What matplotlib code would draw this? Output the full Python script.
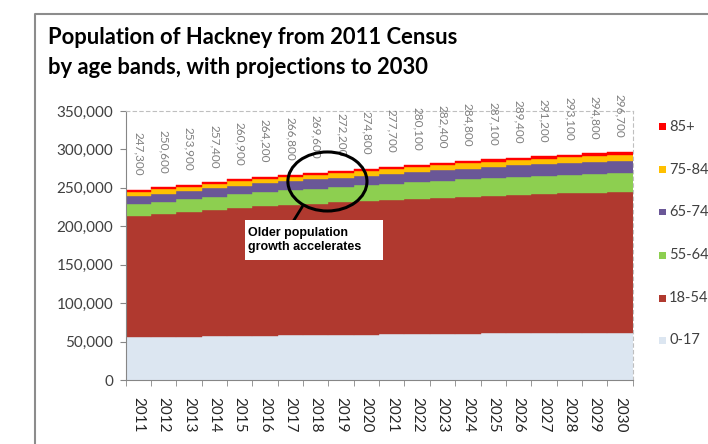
import matplotlib.pyplot as plt
from matplotlib.patches import Ellipse, Rectangle

years = list(range(2011, 2031))
totals = [247300, 250600, 253900, 257400, 260900, 264200, 266800, 269600, 272200, 274800,
          277700, 280100, 282400, 284800, 287100, 289400, 291200, 293100, 294800, 296700]

age_0_17 = [55800, 56100, 56500, 57000, 57400, 57800, 58100, 58400, 58700, 59000,
            59400, 59700, 60000, 60300, 60600, 60800, 61000, 61200, 61300, 61500]
age_18_54 = [157100, 159450, 161650, 163900, 166200, 168150, 169500, 171050, 172400, 173750,
             175250, 176350, 177350, 178450, 179400, 180500, 181100, 181800, 182400, 183100]
age_55_64 = [16200, 16600, 17000, 17500, 18000, 18500, 19000, 19500, 20000, 20500,
             21000, 21500, 22000, 22500, 23000, 23400, 23800, 24200, 24600, 25000]
age_65_74 = [10300, 10500, 10700, 10900, 11100, 11400, 11700, 12000, 12300, 12600,
             12900, 13200, 13500, 13800, 14100, 14400, 14700, 15000, 15300, 15600]
age_75_84 = [5500, 5550, 5600, 5650, 5700, 5800, 5900, 6000, 6100, 6200,
             6350, 6500, 6650, 6800, 7000, 7200, 7400, 7600, 7800, 8000]
age_85 = [2400, 2400, 2450, 2450, 2500, 2550, 2600, 2650, 2700, 2750,
          2800, 2850, 2900, 2950, 3000, 3100, 3200, 3300, 3400, 3500]

bands = ["0-17", "18-54", "55-64", "65-74", "75-84", "85+"]
series = [age_0_17, age_18_54, age_55_64, age_65_74, age_75_84, age_85]
colors = ["#DCE6F1", "#B0392F", "#8DCF50", "#6A5797", "#FFC000", "#FF0000"]

FONT = "Lato"
GREY = "#404040"

fig = plt.figure(figsize=(7.08, 4.44), dpi=100)
ax = fig.add_axes([0.1775, 0.1441, 0.716, 0.6059])

x = list(range(len(years)))
bottom = [0] * len(years)
for vals, c in zip(series, colors):
    ax.bar(x, vals, width=1.0, bottom=bottom, color=c, edgecolor=c, linewidth=0.3)
    bottom = [b + v for b, v in zip(bottom, vals)]

# total labels above the stack
for xi, t in zip(x, totals):
    ax.annotate(f"{t:,}", (xi, t), xytext=(0, 41.5), textcoords="offset points",
                rotation=270, ha="center", va="top", fontsize=8.5, color="#7F7F7F",
                family=FONT, annotation_clip=False)

ax.set_xlim(-0.5, len(years) - 0.5)
ax.set_ylim(0, 350000)
ax.set_yticks(range(0, 350001, 50000))
ax.set_yticklabels([f"{v:,}" for v in range(0, 350001, 50000)], family=FONT, fontsize=11, color=GREY)
ax.set_xticks(x)
ax.set_xticklabels([str(y) for y in years], rotation=270, family=FONT, fontsize=11, color="#262626")
ax.set_xticks([i - 0.5 for i in range(len(years) + 1)], minor=True)
ax.tick_params(axis="x", which="major", length=0, pad=12)
ax.tick_params(axis="x", which="minor", length=4, color="#868686")
ax.tick_params(axis="y", length=4, color="#868686", pad=5)

for s in ["left", "bottom"]:
    ax.spines[s].set_color("#868686")
for s in ["top", "right"]:
    ax.spines[s].set_color("#BFBFBF")
    ax.spines[s].set_linestyle((0, (3, 3)))
    ax.spines[s].set_linewidth(0.8)

# callout
ax.add_patch(Ellipse((7.46, 258300), 3.12, 76800, fill=False, edgecolor="black", lw=2.2, zorder=5))
ax.plot([6.46, 6.02], [225100, 201700], color="black", lw=2, zorder=5)
ax.add_patch(Rectangle((4.21, 156100), 5.44, 52100, facecolor="white", edgecolor="none", zorder=5))
ax.text(4.32, 182000, "Older population\ngrowth accelerates", ha="left", va="center",
        fontsize=9, fontweight="bold", family="Liberation Sans", color="black",
        linespacing=1.25, zorder=6)

# title
fig.text(48 / 708, 1 - 37 / 444, "Population of Hackney from 2011 Census",
         family=FONT, fontweight="bold", fontsize=15.8, color="black", va="center")
fig.text(48 / 708, 1 - 68 / 444, "by age bands, with projections to 2030",
         family=FONT, fontweight="bold", fontsize=15.8, color="black", va="center")

# legend, top to bottom
leg_y = [127, 170, 212, 255, 298, 340]
for yy, lab, c in zip(leg_y, bands[::-1], colors[::-1]):
    fig.patches.append(Rectangle((659 / 708, 1 - (yy + 3.5) / 444), 7 / 708, 7 / 444,
                                 transform=fig.transFigure, facecolor=c, edgecolor="none"))
    fig.text(669 / 708, 1 - yy / 444, lab, family=FONT, fontsize=10.5, color=GREY, va="center")

# outer chart frame (cropped)
fig.add_artist(plt.Line2D([35 / 708, 35 / 708, 1.0], [0.0, 1 - 14 / 444, 1 - 14 / 444],
                          transform=fig.transFigure, color="#8C8C8C", lw=1.5))

fig.savefig("out.png", dpi=100)
